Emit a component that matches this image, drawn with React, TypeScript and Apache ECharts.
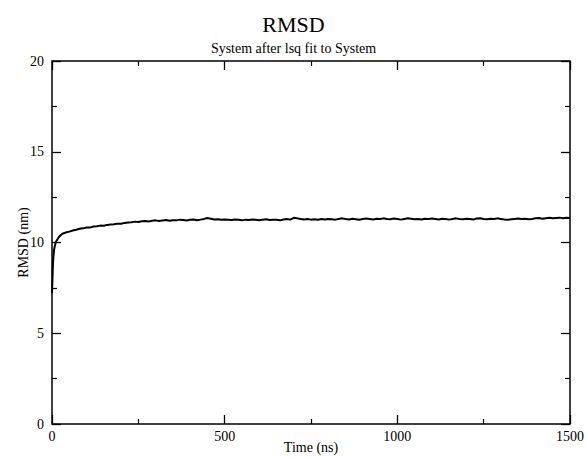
import React, { useEffect, useRef } from "react";
import * as echarts from "echarts";

const titleText = "RMSD";
const subtitleText = "System after lsq fit to System";
const xName = "Time (ns)";
const yName = "RMSD (nm)";

// early, densely sampled part (ns, nm)
const earlyTimes = [0, 1, 2, 3, 4, 5, 6, 8, 10, 12, 15, 20, 25, 30];
const earlyRmsd = [7.2, 7.8, 8.4, 8.9, 9.2, 9.4, 9.6, 9.8, 9.95, 10.05, 10.15, 10.3, 10.4, 10.48];

// later part, sampled every 10 ns from 40 ns to 1500 ns
const lateStart = 40;
const lateStep = 10;
const lateRmsd = [
  10.55, 10.6, 10.66, 10.7, 10.76, 10.78, 10.83, 10.82, 10.88, 10.9, 10.93, 10.92, 10.97, 10.99, 11.0, 11.04, 11.03, 11.08, 11.1, 11.12,
  11.15, 11.13, 11.17, 11.19, 11.16, 11.2, 11.22, 11.18, 11.21, 11.24, 11.2, 11.23, 11.22, 11.26, 11.24, 11.21, 11.25, 11.27, 11.23, 11.26, 11.3, 11.35, 11.31, 11.27, 11.28, 11.25, 11.27,
  11.26, 11.24, 11.27, 11.25, 11.22, 11.26, 11.24, 11.27, 11.25, 11.23, 11.26, 11.28, 11.24, 11.26, 11.25, 11.22, 11.27, 11.3, 11.26, 11.36, 11.33, 11.29, 11.27, 11.3, 11.26, 11.28, 11.25, 11.29, 11.27, 11.3,
  11.28, 11.26, 11.3, 11.33, 11.29, 11.27, 11.31, 11.28, 11.25, 11.29, 11.32, 11.3, 11.27, 11.31, 11.29, 11.33, 11.3, 11.28, 11.32, 11.29, 11.26, 11.3, 11.33, 11.31, 11.28, 11.3, 11.27, 11.31, 11.29, 11.32,
  11.3, 11.27, 11.31, 11.29, 11.26, 11.3, 11.33, 11.29, 11.28, 11.31, 11.3, 11.27, 11.32, 11.34, 11.3, 11.28, 11.31, 11.29, 11.33, 11.3, 11.27, 11.25, 11.28, 11.3, 11.32, 11.29, 11.31, 11.28, 11.3, 11.33, 11.35, 11.31, 11.34, 11.36, 11.33, 11.35, 11.37, 11.34, 11.36, 11.35,
];

const xMin = 0;
const xMax = 1500;
const xInterval = 500;
const yMin = 0;
const yMax = 20;
const yInterval = 5;

const FONT = "'Liberation Serif', 'DejaVu Serif', serif";

const W = 587;
const H = 457;
const G = { left: 52, right: 17, top: 61, bottom: 33 };
const plotW = W - G.left - G.right;
const plotH = H - G.top - G.bottom;

function tickAxis(kind: "x" | "y", position: string, offset: number) {
  const isX = kind === "x";
  return {
    type: "value" as const,
    min: isX ? xMin : yMin,
    max: isX ? xMax : yMax,
    interval: isX ? xInterval : yInterval,
    position,
    offset,
    axisLine: { show: false, onZero: false },
    axisTick: { show: true, inside: false, length: 9, lineStyle: { color: "#000", width: 1.3 } },
    minorTick: { show: true, splitNumber: 2, length: 5, lineStyle: { color: "#000", width: 1.2 } },
    axisLabel: { show: false },
    splitLine: { show: false },
  };
}

export default function App() {
  const ref = useRef<HTMLDivElement>(null);

  useEffect(() => {
    if (!ref.current) return;
    const chart = echarts.init(ref.current, undefined, { renderer: "svg" });

    const data: [number, number][] = [];
    earlyTimes.forEach((t, i) => data.push([t, earlyRmsd[i]]));
    lateRmsd.forEach((v, i) => data.push([lateStart + i * lateStep, v]));

    const label = { color: "#000", fontFamily: FONT, fontSize: 14, formatter: (v: number) => String(v) };

    chart.setOption({
      animation: false,
      backgroundColor: "#fff",
      title: {
        text: titleText,
        subtext: subtitleText,
        left: "center",
        top: 8,
        itemGap: 6,
        padding: [5, 5, 5, 30],
        textStyle: { fontFamily: FONT, fontSize: 22, fontWeight: "normal", color: "#000" },
        subtextStyle: { fontFamily: FONT, fontSize: 14, color: "#000" },
      },
      grid: {
        ...G,
        containLabel: false,
        outerBoundsMode: "none",
        show: true,
        borderColor: "#000",
        borderWidth: 1.5,
        backgroundColor: "transparent",
      },
      xAxis: [
        {
          type: "value",
          min: xMin,
          max: xMax,
          interval: xInterval,
          position: "bottom",
          axisLine: { show: false, onZero: false },
          axisTick: { show: false },
          minorTick: { show: false },
          splitLine: { show: false },
          axisLabel: { ...label, margin: 5 },
          name: xName,
          nameLocation: "middle",
          nameGap: 16,
          nameMoveOverlap: false,
          nameTextStyle: { fontFamily: FONT, fontSize: 14, color: "#000" },
        },
        // ticks along the bottom edge, pointing up
        tickAxis("x", "top", -plotH),
        // ticks along the top edge, pointing down
        tickAxis("x", "bottom", -plotH),
      ],
      yAxis: [
        {
          type: "value",
          min: yMin,
          max: yMax,
          interval: yInterval,
          position: "left",
          axisLine: { show: false, onZero: false },
          axisTick: { show: false },
          minorTick: { show: false },
          splitLine: { show: false },
          axisLabel: { ...label, margin: 8 },
          name: yName,
          nameLocation: "middle",
          nameGap: 22,
          nameMoveOverlap: false,
          nameRotate: 90,
          nameTextStyle: { fontFamily: FONT, fontSize: 14, color: "#000" },
        },
        // ticks along the left edge, pointing right
        tickAxis("y", "right", -plotW),
        // ticks along the right edge, pointing left
        tickAxis("y", "left", -plotW),
      ],
      series: [
        {
          type: "line",
          xAxisIndex: 0,
          yAxisIndex: 0,
          data,
          showSymbol: false,
          lineStyle: { color: "#000", width: 2 },
        },
      ],
    });

    return () => chart.dispose();
  }, []);

  return (
    <div
      ref={ref}
      style={{ position: "fixed", left: 0, top: 0, width: W, height: H }}
    />
  );
}
